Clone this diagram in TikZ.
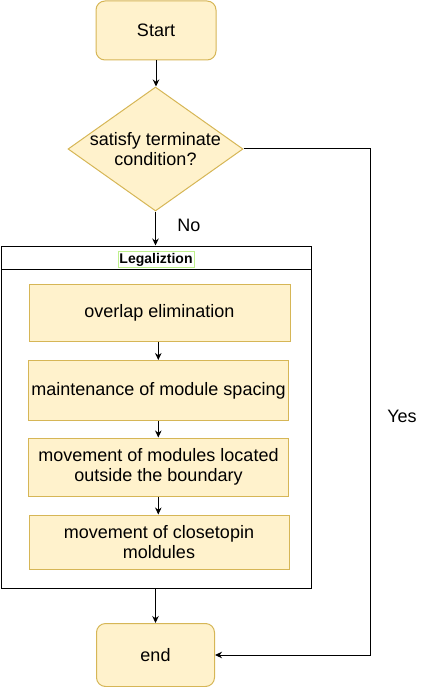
\documentclass[tikz,border=0pt]{standalone}
\usepackage{fontspec}
\setmainfont{Liberation Sans}
\usetikzlibrary{shapes.geometric,arrows.meta,calc}
\definecolor{boxfill}{HTML}{FFF2CC}
\definecolor{boxdraw}{HTML}{D6B656}
\definecolor{lblgreen}{RGB}{190,240,140}
\begin{document}
\begin{tikzpicture}[x=1pt,y=-1pt,
  every node/.style={font=\fontsize{18}{20.5}\selectfont},
  term/.style={draw=boxdraw,fill=boxfill,rounded corners=9pt,line width=1pt,inner sep=0pt},
  proc/.style={draw=boxdraw,fill=boxfill,line width=1pt,inner sep=0pt,align=center},
  dia/.style={draw=boxdraw,fill=boxfill,line width=1pt,diamond,inner sep=0pt},
  arr/.style={draw=black,line width=1pt,-{Stealth[length=7pt,width=6.5pt]}},
  ln/.style={draw=black,line width=1pt}]
\useasboundingbox (0,0) rectangle (433,687);
% start
\node[term,minimum width=120pt,minimum height=59pt] (s) at (156,30.5) {Start};
% diamond
\node[dia,minimum width=175pt,minimum height=124pt] (d) at (155.5,149) {};
\node[align=center] (dt) at (d.center) {satisfy terminate\\condition?};
% container
\node[draw=black,line width=1pt,minimum width=310pt,minimum height=342pt,inner sep=0pt] (c) at (156,417) {};
\coordinate (hl) at (1,269);
\coordinate (hr) at (311,269);
\draw[ln] (hl) -- (hr);
\node[draw=lblgreen,line width=0.8pt,inner sep=1.5pt,font=\fontsize{14}{16}\selectfont\bfseries] (lg) at (156,259.5) {Legaliztion};
% process boxes
\node[proc,minimum width=261pt,minimum height=57pt] (b1) at (159.5,312.5) {overlap elimination};
\node[proc,minimum width=260pt,minimum height=60pt] (b2) at (158.5,390.5) {maintenance of module spacing};
\node[proc,minimum width=260pt,minimum height=58pt] (b3) at (158.5,467) {movement of modules located\\outside the boundary};
\node[proc,minimum width=260pt,minimum height=54pt] (b4) at (159,542) {movement of closetopin\\moldules};
% end
\node[term,minimum width=118pt,minimum height=63pt] (e) at (155.5,655) {end};
% labels
\node (no) at (189,225.5) {No};
\node (yes) at (402,416) {Yes};
% connectors
\draw[arr] (s.south) -- (s.south |- d.north);
\draw[arr] (d.south) -- (d.south |- c.north);
\coordinate (ax) at (158.3,0);
\draw[arr] (ax |- b1.south) -- (ax |- b2.north);
\draw[arr] (ax |- b2.south) -- (ax |- b3.north);
\draw[arr] (ax |- b3.south) -- (ax |- b4.north);
\draw[arr] (e.north |- c.south) -- (e.north);
\coordinate (yc) at (370.5,0);
\draw[arr] (d.east) -| (yc |- e.east) -- (e.east);
\end{tikzpicture}
\end{document}
